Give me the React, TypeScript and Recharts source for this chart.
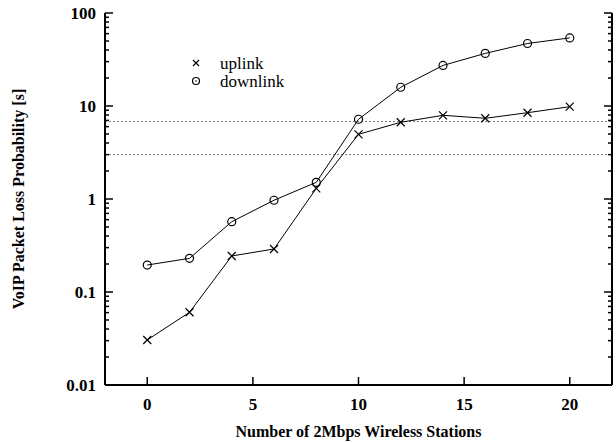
import React from 'react';
import { LineChart, Line, XAxis, YAxis, ReferenceLine, Legend } from 'recharts';

const stations = [0, 2, 4, 6, 8, 10, 12, 14, 16, 18, 20];
const uplink = [0.0305, 0.0605, 0.244, 0.29, 1.3, 4.96, 6.68, 7.94, 7.38, 8.47, 9.83];
const downlink = [0.195, 0.23, 0.57, 0.97, 1.51, 7.2, 15.9, 27.3, 36.8, 47, 54];
const thresholds = [3, 6.8];
const xTicks = [0, 5, 10, 15, 20];
const decades = [0.01, 0.1, 1, 10, 100];
const decadeLabels = ['0.01', '0.1', '1', '10', '100'];

const yTicks = decades.flatMap((d, i) =>
  i === decades.length - 1 ? [d] : [1, 2, 3, 4, 5, 6, 7, 8, 9].map((m) => m * d)
);

const data = stations.map((s, i) => ({ s, uplink: uplink[i], downlink: downlink[i] }));

const FONT = 'Liberation Serif, serif';

const majorIndex = (v: number) => {
  const l = Math.log10(v);
  return Math.abs(l - Math.round(l)) < 1e-6 ? decades.findIndex((d) => Math.abs(d - v) < d * 1e-6) : -1;
};

const LeftTick = ({ x, y, payload }: any) => {
  const idx = majorIndex(payload.value);
  const len = idx >= 0 ? 8 : 4;
  return (
    <g>
      <line x1={x} x2={x + len} y1={y} y2={y} stroke="#000" strokeWidth={1.5} />
      {idx >= 0 && (
        <text x={x - 9} y={y} dy={6} textAnchor="end" fontFamily={FONT} fontWeight="bold" fontSize={17} fill="#000">
          {decadeLabels[idx]}
        </text>
      )}
    </g>
  );
};

const RightTick = ({ x, y, payload }: any) => {
  const len = majorIndex(payload.value) >= 0 ? 8 : 4;
  return <line x1={x} x2={x - len} y1={y} y2={y} stroke="#000" strokeWidth={1.5} />;
};

const BottomTick = ({ x, y, payload }: any) => (
  <g>
    <line x1={x} x2={x} y1={y} y2={y - 8} stroke="#000" strokeWidth={1.5} />
    <text x={x} y={y + 25} textAnchor="middle" fontFamily={FONT} fontWeight="bold" fontSize={17} fill="#000">
      {payload.value}
    </text>
  </g>
);

const TopTick = ({ x, y }: any) => (
  <line x1={x} x2={x} y1={y} y2={y + 8} stroke="#000" strokeWidth={1.5} />
);

const CircleDot = ({ cx, cy, index }: any) => (
  <circle key={`c-${index}`} cx={cx} cy={cy} r={4} fill="none" stroke="#000" strokeWidth={1.2} />
);

const CrossDot = ({ cx, cy, index }: any) => (
  <path
    key={`x-${index}`}
    d={`M${cx - 4},${cy - 4}L${cx + 4},${cy + 4}M${cx - 4},${cy + 4}L${cx + 4},${cy - 4}`}
    stroke="#000"
    strokeWidth={1.2}
  />
);

const YTitle = ({ viewBox }: any) => {
  const cx = viewBox.x + 18;
  const cy = viewBox.y + viewBox.height / 2;
  return (
    <text x={cx} y={cy} transform={`rotate(-90 ${cx} ${cy})`} textAnchor="middle" dominantBaseline="central"
      fontFamily={FONT} fontWeight="bold" fontSize={16} fill="#000">
      VoIP Packet Loss Probability [s]
    </text>
  );
};

const XTitle = ({ viewBox }: any) => (
  <text x={viewBox.x + viewBox.width / 2} y={viewBox.y + 52} textAnchor="middle"
    fontFamily={FONT} fontWeight="bold" fontSize={16} fill="#000">
    Number of 2Mbps Wireless Stations
  </text>
);

const LegendBox = () => (
  <svg width={130} height={40}>
    <path d="M8,8L14,14M8,14L14,8" stroke="#000" strokeWidth={1.2} />
    <text x={35} y={17} fontFamily={FONT} fontSize={17} fill="#000">uplink</text>
    <circle cx={11} cy={29} r={3.5} fill="none" stroke="#000" strokeWidth={1.2} />
    <circle cx={11} cy={29} r={0.8} fill="#000" />
    <text x={35} y={35} fontFamily={FONT} fontSize={17} fill="#000">downlink</text>
  </svg>
);

export default function App() {
  return (
    <div style={{ position: 'absolute', left: 0, top: 0, background: '#fff' }}>
      <LineChart width={616} height={443} data={data} margin={{ top: 13, right: 0, bottom: 0, left: 0 }}>
        <XAxis xAxisId="bottom" dataKey="s" type="number" domain={[-2, 22]} ticks={xTicks}
          height={58} tickSize={0} tickMargin={0} tick={<BottomTick />} tickLine={false}
          axisLine={{ stroke: '#000', strokeWidth: 2 }} label={<XTitle />} />
        <XAxis xAxisId="top" orientation="top" dataKey="s" type="number" domain={[-2, 22]} ticks={xTicks}
          height={0} tickSize={0} tickMargin={0} tick={<TopTick />} tickLine={false}
          axisLine={{ stroke: '#000', strokeWidth: 2 }} />
        <YAxis yAxisId="left" scale="log" domain={[0.01, 100]} ticks={yTicks} allowDataOverflow
          width={105} tickSize={0} tickMargin={0} tick={<LeftTick />} tickLine={false} interval={0}
          axisLine={{ stroke: '#000', strokeWidth: 2 }} label={<YTitle />} />
        <YAxis yAxisId="right" orientation="right" scale="log" domain={[0.01, 100]} ticks={yTicks} allowDataOverflow
          width={4} tickSize={0} tickMargin={0} tick={<RightTick />} tickLine={false} interval={0}
          axisLine={{ stroke: '#000', strokeWidth: 2 }} />
        {thresholds.map((t) => (
          <ReferenceLine key={t} xAxisId="bottom" yAxisId="left" y={t} stroke="#777" strokeWidth={1} strokeDasharray="2 2" />
        ))}
        <Line xAxisId="bottom" yAxisId="left" dataKey="uplink" stroke="#000" strokeWidth={1}
          dot={<CrossDot />} isAnimationActive={false} />
        <Line xAxisId="bottom" yAxisId="left" dataKey="downlink" stroke="#000" strokeWidth={1}
          dot={<CircleDot />} isAnimationActive={false} />
        <Legend layout="horizontal" verticalAlign="middle" align="center" content={<LegendBox />}
          wrapperStyle={{ left: 185, top: 52, width: 130, height: 40 }} />
      </LineChart>
    </div>
  );
}
